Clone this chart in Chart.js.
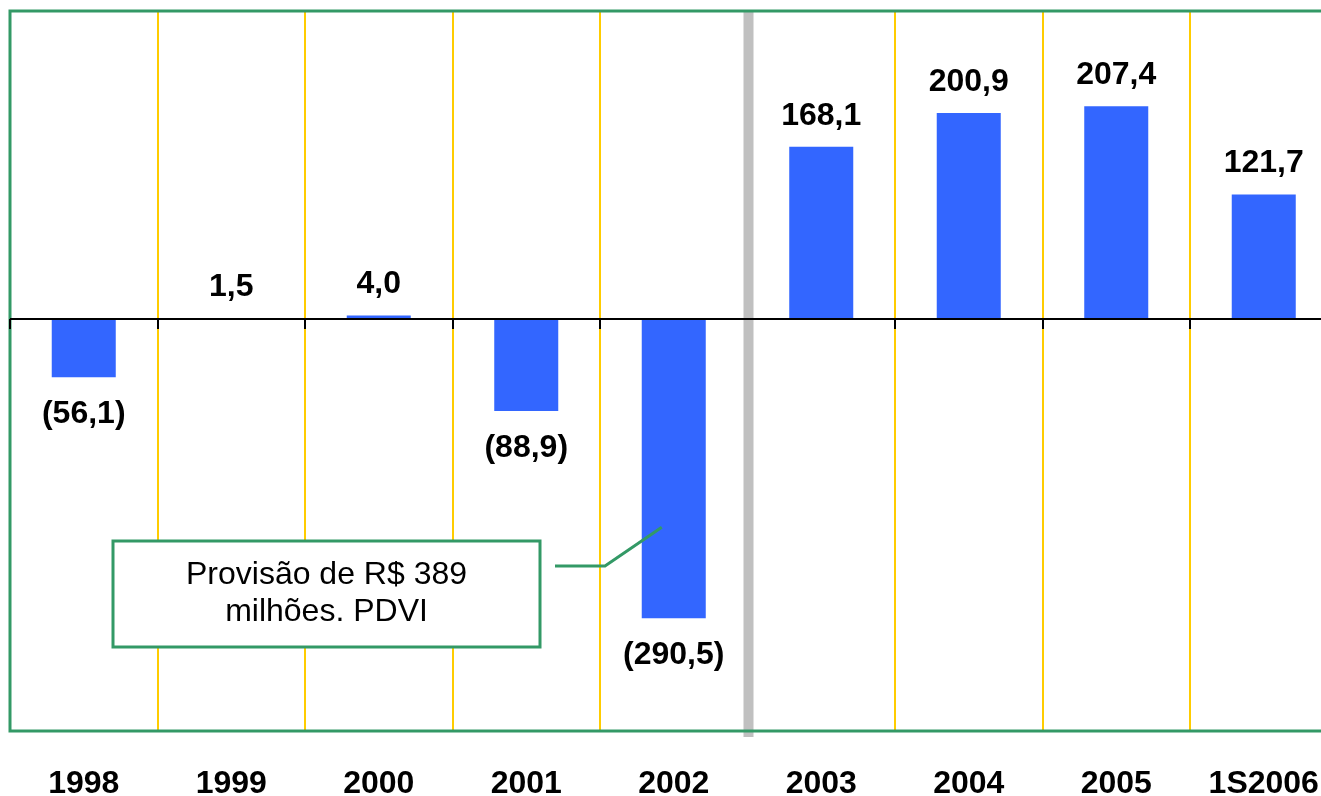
<!DOCTYPE html>
<html>
<head>
<meta charset="utf-8">
<script src="https://cdn.jsdelivr.net/npm/chart.js@4"></script>
<style>
  html, body { margin: 0; padding: 0; background: #fff; overflow: hidden; }
  canvas { display: block; }
</style>
</head>
<body>
<canvas id="grafico" width="1340" height="796"></canvas>
<script>
// Dados do gráfico
const anos = ['1998', '1999', '2000', '2001', '2002', '2003', '2004', '2005', '1S2006'];
const resultados = [-56.1, 1.5, 4.0, -88.9, -290.5, 168.1, 200.9, 207.4, 121.7];
const textoNota = ['Provisão de R$ 389', 'milhões. PDVI'];

const verde = '#339966';
const amarelo = '#FFCC00';
const cinza = '#C0C0C0';
const azul = '#3366FF';

// formata 168.1 -> "168,1" e -56.1 -> "(56,1)"
function formata(v) {
    const s = Math.abs(v).toFixed(1).replace('.', ',');
    return v < 0 ? '(' + s + ')' : s;
}

// Desenha grade, bordas, linha do zero, rótulos e a nota
const decoracao = {
    id: 'decoracao',
    beforeDatasetsDraw(chart) {
        const ctx = chart.ctx;
        const area = chart.chartArea;
        const x = chart.scales.x;
        const passo = x.getPixelForValue(1) - x.getPixelForValue(0);

        ctx.save();
        // linhas verticais amarelas entre as categorias
        ctx.strokeStyle = amarelo;
        ctx.lineWidth = 2;
        for (let i = 1; i < anos.length; i++) {
            if (i === 5) continue;
            const px = Math.round(x.getPixelForValue(i) - passo / 2);
            ctx.beginPath();
            ctx.moveTo(px, area.top);
            ctx.lineTo(px, area.bottom);
            ctx.stroke();
        }
        ctx.restore();
    },
    afterDatasetsDraw(chart) {
        const ctx = chart.ctx;
        const area = chart.chartArea;
        const x = chart.scales.x;
        const y = chart.scales.y;
        const passo = x.getPixelForValue(1) - x.getPixelForValue(0);
        const zero = y.getPixelForValue(0) - 0.5;

        ctx.save();

        // divisória cinza entre 2002 e 2003
        const div = x.getPixelForValue(5) - passo / 2;
        ctx.fillStyle = cinza;
        ctx.fillRect(div - 4, area.top, 10, area.bottom - area.top + 6);

        // borda verde
        ctx.strokeStyle = verde;
        ctx.lineWidth = 3;
        ctx.strokeRect(area.left, area.top, area.right - area.left + 20, area.bottom - area.top);

        // linha do zero com marcas
        ctx.strokeStyle = '#000';
        ctx.lineWidth = 2;
        ctx.beginPath();
        ctx.moveTo(area.left, zero);
        ctx.lineTo(chart.width, zero);
        ctx.stroke();
        for (let i = 0; i < anos.length; i++) {
            if (i === 5) continue;
            const px = Math.round(x.getPixelForValue(i) - passo / 2);
            ctx.beginPath();
            ctx.moveTo(px, zero);
            ctx.lineTo(px, zero + 10);
            ctx.stroke();
        }

        // rótulos de valor
        ctx.fillStyle = '#000';
        ctx.font = 'bold 32px "Liberation Sans", Arial, sans-serif';
        ctx.textAlign = 'center';
        ctx.textBaseline = 'alphabetic';
        const barras = chart.getDatasetMeta(0).data;
        resultados.forEach((v, i) => {
            const b = barras[i];
            const py = v >= 0 ? Math.min(b.y, zero) - 22 : b.y + 46;
            ctx.fillText(formata(v), b.x, py);
        });

        // rótulos dos anos
        anos.forEach((a, i) => {
            ctx.fillText(a, x.getPixelForValue(i), area.bottom + 62);
        });

        // nota da provisão
        const bx = Math.round(x.getPixelForValue(0) + 29);
        const bw = 427, bh = 106;
        const by = Math.round(y.getPixelForValue(-215));
        ctx.fillStyle = '#fff';
        ctx.fillRect(bx, by, bw, bh);
        ctx.strokeStyle = verde;
        ctx.lineWidth = 3;
        ctx.strokeRect(bx, by, bw, bh);
        ctx.fillStyle = '#000';
        ctx.font = '32px "Liberation Sans", Arial, sans-serif';
        ctx.textBaseline = 'middle';
        ctx.fillText(textoNota[0], bx + bw / 2, by + 34);
        ctx.fillText(textoNota[1], bx + bw / 2, by + 71);

        // conector
        const fimX = x.getPixelForValue(4) - 12;
        const fimY = y.getPixelForValue(-202);
        ctx.beginPath();
        ctx.moveTo(bx + bw + 15, by + 25);
        ctx.lineTo(bx + bw + 65, by + 25);
        ctx.lineTo(fimX, fimY);
        ctx.stroke();

        ctx.restore();
    }
};

new Chart(document.getElementById('grafico').getContext('2d'), {
    type: 'bar',
    data: {
        labels: anos,
        datasets: [{
            data: resultados,
            backgroundColor: azul,
            borderWidth: 0,
            categoryPercentage: 1,
            barPercentage: 0.434
        }]
    },
    options: {
        responsive: false,
        animation: false,
        layout: { padding: { left: 10, top: 11, right: 2.5, bottom: 65 } },
        plugins: {
            legend: { display: false },
            tooltip: { enabled: false }
        },
        scales: {
            x: { display: false, offset: true },
            y: { display: false, min: -400, max: 300 }
        }
    },
    plugins: [decoracao]
});
</script>
</body>
</html>
